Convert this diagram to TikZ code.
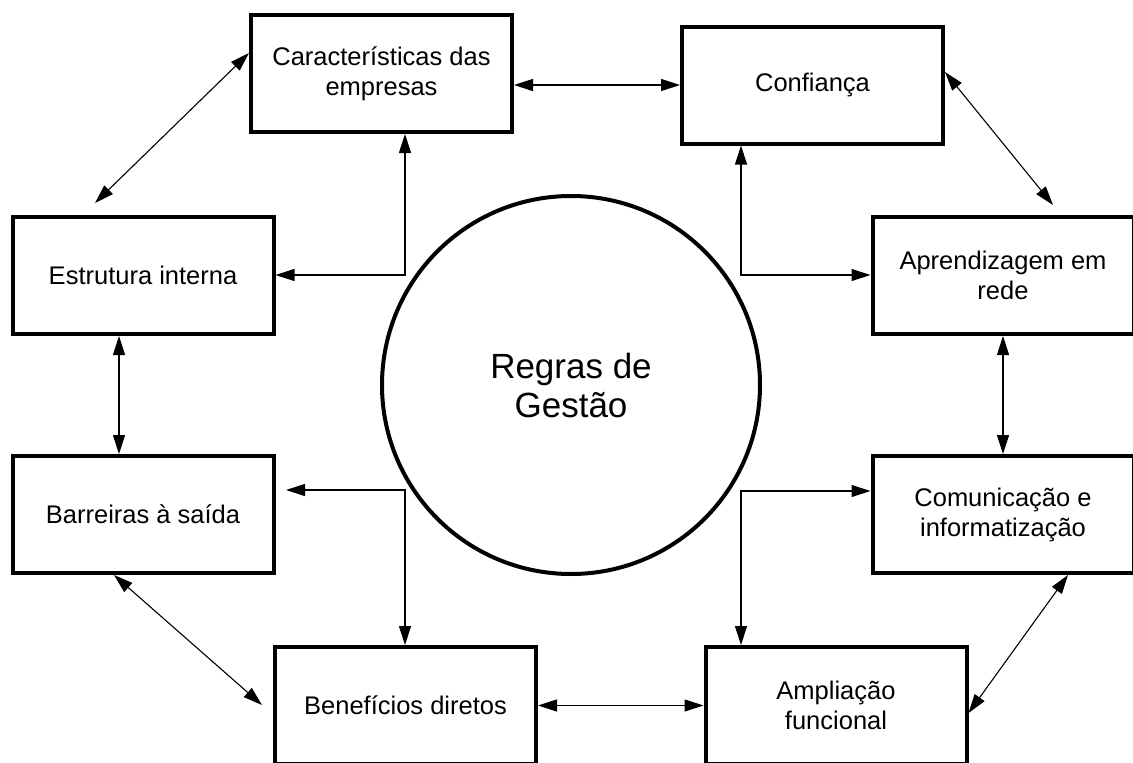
\documentclass[tikz,border=0pt]{standalone}
\usepackage{fontspec}
\setmainfont{Liberation Sans}
\usetikzlibrary{arrows.meta}
\begin{document}
\begin{tikzpicture}[x=1pt,y=-1pt,
  >={Triangle[length=19pt,width=12pt]},
  box/.style={draw=black,line width=4pt,minimum width=261pt,minimum height=117pt,
    inner sep=0pt,align=center,font=\fontsize{25.5}{30}\selectfont},
  hub/.style={draw=black,line width=4pt,circle,minimum size=378pt,inner sep=0pt,
    align=center,font=\fontsize{35}{39}\selectfont},
  link/.style={<->,line width=1.1pt,draw=black}]
\useasboundingbox (0,0) rectangle (1133,763);
\fill[white] (0,0) rectangle (1133,763);

\node[hub] (hub) at (571,385) {Regras de\\Gestão};

\node[box] (car) at (381.5,73.5) {Características das\\empresas};
\node[box] (con) at (812.5,85) {Confiança};
\node[box] (est) at (143,275.5) {Estrutura interna};
\node[box] (apr) at (1003,275.5) {Aprendizagem em\\rede};
\node[box] (bar) at (143,514.5) {Barreiras à saída};
\node[box] (com) at (1003,514.5) {Comunicação e\\informatização};
\node[box] (ben) at (405.5,705.5) {Benefícios diretos};
\node[box] (amp) at (836,705.5) {Ampliação\\funcional};

\coordinate (p1) at (95,203);
\coordinate (p2) at (1053,205);
\coordinate (p3) at (286,490);
\coordinate (p4) at (262,705);
\coordinate (c1) at (405,275);
\coordinate (c2) at (741,275);
\coordinate (c3) at (119,400);
\coordinate (c4) at (405,490);
\coordinate (c5) at (741,491);

% diagonals
\draw[link] ([yshift=20.5pt]car.west) -- (p1);
\draw[link] ([yshift=13pt]con.east) -- (p2);
\draw[link] ([xshift=-29pt]bar.south) -- (p4);
\draw[link] ([xshift=65pt]com.south) -- ([yshift=-7.5pt]amp.east);

% horizontals / verticals
\draw[link] (car.east |- con.west) -- (con.west);
\draw[link] (ben.east) -- (amp.west);
\draw[link] (est.south -| c3) -- (bar.north -| c3);
\draw[link] (apr.south) -- (com.north);

% elbow connectors
\draw[link] (car.south -| c1) -- (c1) -- (est.east |- c1);
\draw[link] (con.south -| c2) -- (c2) -- (apr.west |- c2);
\draw[link] (p3) -- (c4) -- (ben.north -| c4);
\draw[link] (com.west |- c5) -- (c5) -- (amp.north -| c5);
\end{tikzpicture}
\end{document}
